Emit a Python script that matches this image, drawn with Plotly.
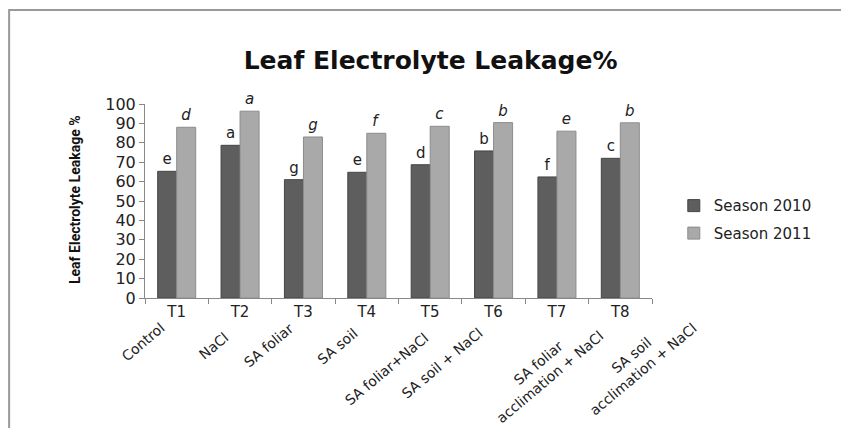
import plotly.graph_objects as go

# ---- data ----
treatments = ["T1", "T2", "T3", "T4", "T5", "T6", "T7", "T8"]
treatment_names = [
    "Control",
    "NaCl",
    "SA foliar",
    "SA soil",
    "SA foliar+NaCl",
    "SA soil + NaCl",
    "SA foliar<br>acclimation + NaCl",
    "SA soil<br>acclimation + NaCl",
]
season_2010 = [65.3, 78.7, 61.0, 64.8, 68.7, 75.8, 62.4, 72.0]
season_2011 = [88.0, 96.3, 83.0, 84.9, 88.5, 90.4, 86.0, 90.3]
letters_2010 = ["e", "a", "g", "e", "d", "b", "f", "c"]
letters_2011 = ["d", "a", "g", "f", "c", "b", "e", "b"]
y_ticks = list(range(0, 101, 10))

# ---- style / layout helpers (not data) ----
label_xshift = [-6, -6, -4, -3, 4, -5, 52, 82]
label_yshift = [-19, -28, -19, -24, -29, -24, -13, -5]

FONT = "DejaVu Sans, Verdana, sans-serif"

fig = go.Figure()
fig.add_trace(go.Bar(
    name="Season 2010", x=treatments, y=season_2010,
    text=letters_2010, textposition="outside", cliponaxis=False,
    textfont=dict(family=FONT, size=15, color="#222"),
    marker=dict(color="#5e5e5e", line=dict(color="#454545", width=1)),
    legendgroup="a",
))
fig.add_trace(go.Bar(
    name="Season 2011", x=treatments, y=season_2011,
    text=["<i>%s</i>" % t for t in letters_2011], textposition="outside", cliponaxis=False,
    textfont=dict(family=FONT, size=15, color="#222"),
    marker=dict(color="#a9a9a9", line=dict(color="#8c8c8c", width=1)),
    legendgroup="b",
))

annotations = []
for i, name in enumerate(treatment_names):
    annotations.append(dict(
        x=treatments[i], y=0, xref="x", yref="paper",
        text=name, showarrow=False, textangle=-40,
        xanchor="right", yanchor="top", align="center",
        xshift=label_xshift[i], yshift=label_yshift[i],
        font=dict(family=FONT, size=14, color="#222"),
    ))
annotations.append(dict(
    x=-0.138, y=0.505, xref="paper", yref="paper",
    text="<b>Leaf Electrolyte Leakage %</b>", showarrow=False, textangle=-90,
    xanchor="center", yanchor="middle",
    font=dict(family="Liberation Sans Narrow, Roboto, sans-serif", size=14, color="#111"),
))

fig.update_layout(
    width=841, height=428,
    margin=dict(l=145, r=189, t=104, b=130),
    paper_bgcolor="white", plot_bgcolor="white",
    barmode="group", bargap=0.4, bargroupgap=0,
    title=dict(text="<b>Leaf Electrolyte Leakage%</b>", x=0.512, xref="container",
               xanchor="center", y=1 - 60 / 428, yanchor="middle",
               font=dict(family=FONT, size=25, color="#111")),
    legend=dict(x=1.043, y=0.56, xanchor="left", yanchor="top",
                traceorder="grouped", tracegroupgap=5,
                font=dict(family=FONT, size=15, color="#222"),
                bgcolor="rgba(0,0,0,0)"),
    annotations=annotations,
    shapes=[dict(type="rect", xref="paper", yref="paper",
                 x0=-0.268, x1=1.5, y0=-1.0, y1=1.485,
                 line=dict(color="#999", width=2), fillcolor="rgba(0,0,0,0)")],
    showlegend=True,
)
fig.update_xaxes(
    range=[-0.5, len(treatments) - 0.5], autorange=False,
    showline=True, linecolor="#888", linewidth=1,
    ticks="outside", ticklen=5, tickcolor="#888", tickson="boundaries",
    showgrid=False, tickfont=dict(family=FONT, size=15, color="#222"),
)
fig.update_yaxes(
    range=[0, 100], tickvals=y_ticks,
    showline=True, linecolor="#888", linewidth=1,
    ticks="outside", ticklen=5, tickcolor="#888",
    showgrid=False, zeroline=False,
    tickfont=dict(family=FONT, size=16, color="#222"),
)

fig.write_html(
    "out.html",
    config={"displayModeBar": False},
    post_script="document.body.style.margin='0';document.body.style.overflow='hidden';",
)
